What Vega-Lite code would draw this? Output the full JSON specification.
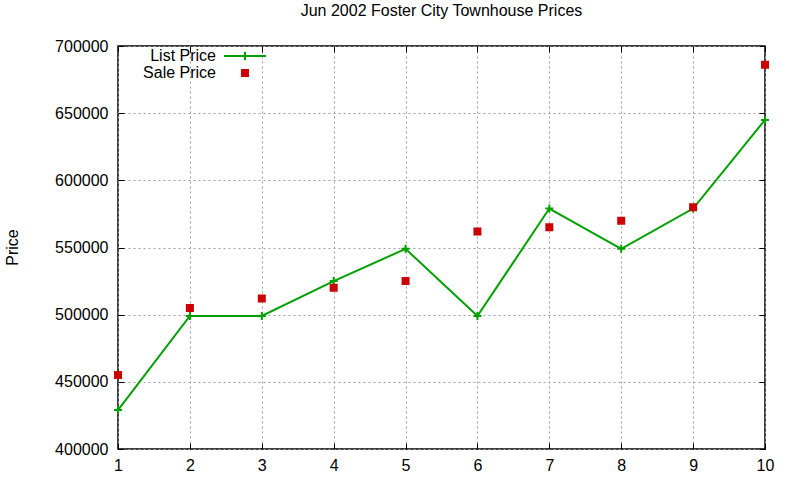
{
  "$schema": "https://vega.github.io/schema/vega-lite/v6.json",
  "width": 647,
  "height": 403,
  "autosize": "none",
  "padding": {"left": 118, "top": 46, "right": 35, "bottom": 31},
  "title": {"text": "Jun 2002 Foster City Townhouse Prices", "fontSize": 16, "fontWeight": "normal", "font": "Liberation Sans", "offset": 19, "color": "black"},
  "config": {
    "font": "Liberation Sans",
    "view": {"stroke": "black", "strokeWidth": 1.5},
    "axis": {
      "labelFont": "Liberation Sans", "labelFontSize": 16, "labelColor": "black",
      "domain": false, "tickColor": "black", "tickSize": -6, "tickWidth": 1,
      "gridColor": "#a0a0a0", "gridDash": [2, 3], "gridWidth": 1, "gridOpacity": 1
    },
    "legend": {"labelFont": "Liberation Sans", "labelFontSize": 16, "labelColor": "black", "padding": 0, "rowPadding": 0, "symbolStrokeWidth": 2, "symbolOpacity": 1, "symbolSize": 36}
  },
  "data": {
    "values": [
      {"x": 1, "series": "List Price", "price": 429000},
      {"x": 2, "series": "List Price", "price": 499000},
      {"x": 3, "series": "List Price", "price": 499000},
      {"x": 4, "series": "List Price", "price": 525000},
      {"x": 5, "series": "List Price", "price": 549000},
      {"x": 6, "series": "List Price", "price": 499000},
      {"x": 7, "series": "List Price", "price": 579000},
      {"x": 8, "series": "List Price", "price": 549000},
      {"x": 9, "series": "List Price", "price": 579000},
      {"x": 10, "series": "List Price", "price": 645000},
      {"x": 1, "series": "Sale Price", "price": 455000},
      {"x": 2, "series": "Sale Price", "price": 505000},
      {"x": 3, "series": "Sale Price", "price": 512000},
      {"x": 4, "series": "Sale Price", "price": 520000},
      {"x": 5, "series": "Sale Price", "price": 525000},
      {"x": 6, "series": "Sale Price", "price": 562000},
      {"x": 7, "series": "Sale Price", "price": 565000},
      {"x": 8, "series": "Sale Price", "price": 570000},
      {"x": 9, "series": "Sale Price", "price": 580000},
      {"x": 10, "series": "Sale Price", "price": 686000}
    ]
  },
  "layer": [
    {
      "mark": {"type": "point", "opacity": 0},
      "encoding": {
        "x": {"field": "x", "type": "quantitative", "scale": {"domain": [1, 10], "nice": false, "zero": false},
          "axis": {"orient": "top", "title": null, "labels": false, "grid": false, "values": [1, 2, 3, 4, 5, 6, 7, 8, 9, 10]}},
        "y": {"field": "price", "type": "quantitative", "scale": {"domain": [400000, 700000], "nice": false, "zero": false},
          "axis": {"orient": "right", "title": null, "labels": false, "grid": false, "values": [400000, 450000, 500000, 550000, 600000, 650000, 700000]}}
      }
    },
    {
      "transform": [{"filter": "datum.series === 'List Price'"}],
      "mark": {"type": "line", "strokeWidth": 2, "clip": false, "color": "#00a000"},
      "encoding": {
        "x": {
          "field": "x", "type": "quantitative",
          "scale": {"domain": [1, 10], "nice": false, "zero": false},
          "axis": {"orient": "bottom", "title": null, "grid": true, "values": [1, 2, 3, 4, 5, 6, 7, 8, 9, 10], "labelPadding": 14, "labelFlush": false}
        },
        "y": {
          "field": "price", "type": "quantitative",
          "scale": {"domain": [400000, 700000], "nice": false, "zero": false},
          "axis": {
            "orient": "left", "grid": true,
            "title": "Price", "titleFont": "Liberation Sans", "titleFontSize": 16, "titleFontWeight": "normal", "titleColor": "black",
            "titleX": -106, "titleY": 201, "titleAngle": -90, "titleAlign": "center", "titleBaseline": "middle",
            "values": [400000, 450000, 500000, 550000, 600000, 650000, 700000], "format": "d", "labelPadding": 16
          }
        }
      }
    },
    {
      "transform": [{"filter": "datum.series === 'List Price'"}],
      "mark": {"type": "point", "shape": "M-1,0H1M0,-1V1", "size": 64, "filled": false, "strokeWidth": 2, "color": "#00a000", "opacity": 1, "clip": false},
      "encoding": {
        "x": {"field": "x", "type": "quantitative", "scale": {"domain": [1, 10], "nice": false, "zero": false}, "axis": null},
        "y": {"field": "price", "type": "quantitative", "scale": {"domain": [400000, 700000], "nice": false, "zero": false}, "axis": null}
      }
    },
    {
      "transform": [{"filter": "datum.series === 'Sale Price'"}],
      "mark": {"type": "point", "filled": true, "size": 36, "strokeWidth": 2, "opacity": 1, "clip": false},
      "encoding": {
        "x": {"field": "x", "type": "quantitative", "scale": {"domain": [1, 10], "nice": false, "zero": false}, "axis": null},
        "y": {"field": "price", "type": "quantitative", "scale": {"domain": [400000, 700000], "nice": false, "zero": false}, "axis": null},
        "shape": {
          "field": "series", "type": "nominal", "title": null,
          "scale": {"domain": ["List Price", "Sale Price"], "range": ["M-7,0H7M0,-1.4V1.4", "square"]},
          "legend": {"title": null, "orient": "none", "legendX": 0, "legendY": 2, "symbolOffset": 119, "labelAlign": "right", "labelOffset": -37, "symbolSize": 36}
        },
        "fill": {"field": "series", "type": "nominal", "title": null, "scale": {"domain": ["List Price", "Sale Price"], "range": ["#00a000", "#cc0000"]},
          "legend": {"title": null, "orient": "none", "legendX": 0, "legendY": 2, "symbolOffset": 119, "labelAlign": "right", "labelOffset": -37, "symbolSize": 36}},
        "stroke": {"field": "series", "type": "nominal", "title": null, "scale": {"domain": ["List Price", "Sale Price"], "range": ["#00a000", "#cc0000"]},
          "legend": {"title": null, "orient": "none", "legendX": 0, "legendY": 2, "symbolOffset": 119, "labelAlign": "right", "labelOffset": -37, "symbolSize": 36}}
      }
    }
  ],
  "resolve": {"axis": {"x": "independent", "y": "independent"}}
}
